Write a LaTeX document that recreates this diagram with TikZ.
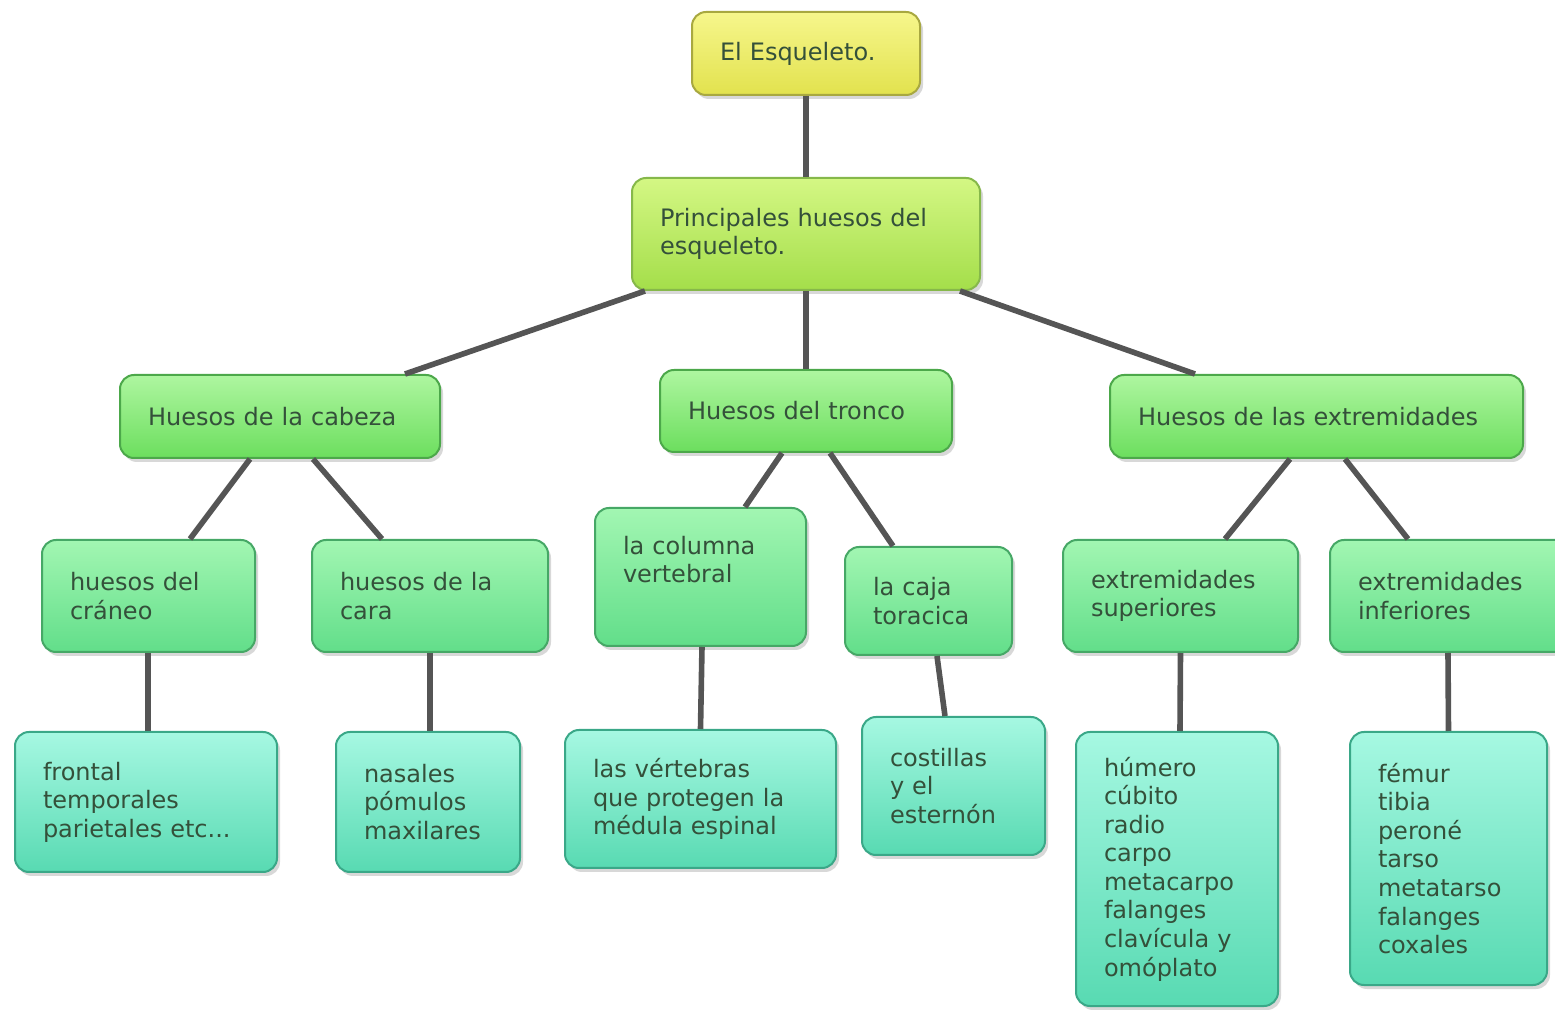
\documentclass[tikz,border=0pt]{standalone}
\usepackage{fontspec}
\setmainfont{DejaVu Sans}
\usepackage{tikz}
\usetikzlibrary{shadows,calc}
\definecolor{txt}{HTML}{34503A}
\definecolor{linkgray}{HTML}{555555}
\definecolor{rootTop}{HTML}{F6F68C}
\definecolor{rootBot}{HTML}{E2E24E}
\definecolor{rootLine}{HTML}{A8A840}
\definecolor{mainTop}{HTML}{D4F784}
\definecolor{mainBot}{HTML}{A4DE4A}
\definecolor{mainLine}{HTML}{86B84A}
\definecolor{groupTop}{HTML}{AEF6A0}
\definecolor{groupBot}{HTML}{6CDE5E}
\definecolor{groupLine}{HTML}{4CA84A}
\definecolor{partTop}{HTML}{A2F6B2}
\definecolor{partBot}{HTML}{62DE8A}
\definecolor{partLine}{HTML}{46A866}
\definecolor{leafTop}{HTML}{A6F8E2}
\definecolor{leafBot}{HTML}{58DAB2}
\definecolor{leafLine}{HTML}{3AA888}
\tikzset{
    box/.style={
           rectangle, rounded corners=7pt,
           line width=1pt,
           inner xsep=14pt, inner ysep=0pt,
           align=left, text=txt,
           font=\fontsize{12}{14.3}\selectfont,
           drop shadow={shadow xshift=1.5pt, shadow yshift=-2pt, opacity=.3}
           },
    root/.style={box, draw=rootLine, top color=rootTop, bottom color=rootBot},
    main/.style={box, draw=mainLine, top color=mainTop, bottom color=mainBot},
    group/.style={box, draw=groupLine, top color=groupTop, bottom color=groupBot},
    part/.style={box, draw=partLine, top color=partTop, bottom color=partBot},
    leaf/.style={box, draw=leafLine, top color=leafTop, bottom color=leafBot},
    size/.style 2 args={minimum width=#1*0.5pt, minimum height=#2*0.5pt,
           text width=#1*0.5pt-28pt},
    link/.style={draw=linkgray, line width=2.8pt}
}
\begin{document}
\begin{tikzpicture}[x=0.5pt, y=-0.5pt]
\clip (0,0) rectangle (1555,1010);
\fill[white] (0,0) rectangle (1555,1010);
% top
\node[root, size={228}{83}] (esqueleto) at (806,53.5) {El Esqueleto.};
\node[main, size={348}{112}] (principales) at (806,234) {Principales huesos del\\esqueleto.};
% groups
\node[group, size={320}{83}] (cabeza) at (280,416.5) {Huesos de la cabeza};
\node[group, size={292}{82}] (tronco) at (806,411) {Huesos del tronco};
\node[group, size={413}{83}] (extremidades) at (1316.5,416.5) {Huesos de las extremidades};
% parts
\node[part, size={213}{112}] (craneo) at (148.5,596) {huesos del\\cráneo};
\node[part, size={236}{112}] (cara) at (430,596) {huesos de la\\cara};
\node[part, size={211}{138}, text depth=32pt] (columna) at (700.5,577) {la columna\\vertebral};
\node[part, size={167}{108}] (caja) at (928.5,601) {la caja\\toracica};
\node[part, size={235}{112}] (superiores) at (1180.5,596) {extremidades\\superiores};
\node[part, size={250}{112}] (inferiores) at (1455,596) {extremidades\\inferiores};
% leaves
\node[leaf, size={262}{140}] (frontal) at (146,802) {frontal\\temporales\\parietales etc...};
\node[leaf, size={184}{140}] (nasales) at (428,802) {nasales\\pómulos\\maxilares};
\node[leaf, size={271}{138}] (vertebras) at (700.5,799) {las vértebras\\que protegen la\\médula espinal};
\node[leaf, size={183}{138}] (costillas) at (953.5,786) {costillas\\y el\\esternón};
\node[leaf, size={202}{274}] (humero) at (1177,869) {húmero\\cúbito\\radio\\carpo\\metacarpo\\falanges\\clavícula y\\omóplato};
\node[leaf, size={197}{253}] (femur) at (1448.5,858.5) {fémur\\tibia\\peroné\\tarso\\metatarso\\falanges\\coxales};
\path[link]
    (esqueleto.south) edge (principales.north)
    ($(principales.south)+(-161,0)$) edge ($(cabeza.north)+(125,0)$)
    (principales.south) edge (tronco.north)
    ($(principales.south)+(154,0)$) edge ($(extremidades.north)+(-121.5,0)$)
    ($(cabeza.south)+(-30,0)$) edge ($(craneo.north)+(41.5,0)$)
    ($(cabeza.south)+(33,0)$) edge ($(cara.north)+(-48,0)$)
    ($(tronco.south)+(-24,0)$) edge ($(columna.north)+(44.5,0)$)
    ($(tronco.south)+(24,0)$) edge ($(caja.north)+(-35.5,0)$)
    ($(extremidades.south)+(-26.5,0)$) edge ($(superiores.north)+(44.5,0)$)
    ($(extremidades.south)+(28.5,0)$) edge ($(inferiores.north)+(-47,0)$)
    ($(craneo.south)+(-0.5,0)$) edge ($(frontal.north)+(2,0)$)
    (cara.south) edge ($(nasales.north)+(2,0)$)
    ($(columna.south)+(1.5,0)$) edge (vertebras.north)
    ($(caja.south)+(8.5,0)$) edge ($(costillas.north)+(-8.5,0)$)
    (superiores.south) edge ($(humero.north)+(3,0)$)
    ($(inferiores.south)+(-7,0)$) edge (femur.north);
\end{tikzpicture}
\end{document}
